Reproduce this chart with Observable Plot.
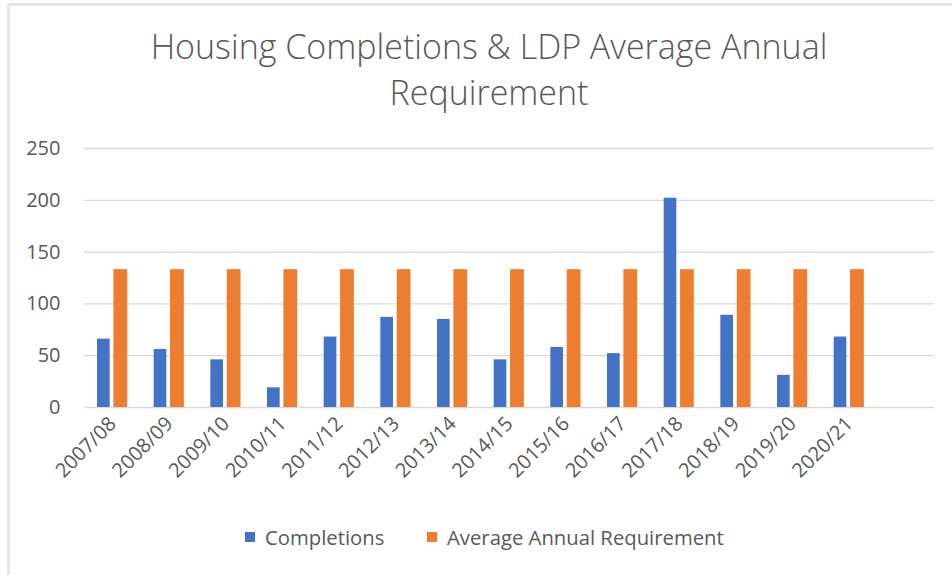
<!DOCTYPE html>
<html>
<head>
<meta charset="utf-8">
<script src="https://cdn.jsdelivr.net/npm/d3@7"></script>
<script src="https://cdn.jsdelivr.net/npm/@observablehq/plot@0.6"></script>
<style>
  html, body { margin: 0; padding: 0; background: #fff; }
  #wrap { position: relative; width: 952px; height: 575px; overflow: hidden; background: #fff; font-family: "Open Sans", sans-serif; color: #595959; }
  #bl { position: absolute; left: 7px; top: 3px; width: 3px; height: 580px; background: #e6e6e6; }
  #bt { position: absolute; left: 7px; top: 3px; width: 960px; height: 3px; background: #e6e6e6; }
  #title { position: absolute; left: 26px; top: 23px; width: 926px; text-align: center; font-size: 34px; font-weight: 300; line-height: 46px; color: #595959; }
  #chart { position: absolute; left: 0; top: 125px; }
  #legend { position: absolute; left: 0; top: 524px; width: 952px; height: 26px; }
  .item { position: absolute; top: 0; display: flex; align-items: center; height: 26px; font-size: 20.3px; line-height: 26px; color: #595959; white-space: nowrap; }
  .sw { display: inline-block; width: 10px; height: 10px; margin-right: 10px; }
</style>
</head>
<body>
<div id="wrap">
  <div id="bl"></div>
  <div id="bt"></div>
  <div id="title">Housing Completions &amp; LDP Average Annual<br>Requirement</div>
  <div id="chart"></div>
  <div id="legend"></div>
</div>
<script>
const years = ["2007/08","2008/09","2009/10","2010/11","2011/12","2012/13","2013/14","2014/15","2015/16","2016/17","2017/18","2018/19","2019/20","2020/21"];
const completions = [66, 56, 46, 19, 68, 87, 85, 46, 58, 52, 202, 89, 31, 68];
const requirement = [133, 133, 133, 133, 133, 133, 133, 133, 133, 133, 133, 133, 133, 133];
const seriesNames = ["Completions", "Average Annual Requirement"];
const seriesColors = ["#4472C4", "#ED7D31"];
const yTicks = [0, 50, 100, 150, 200, 250];

const rows = years.map((y, i) => ({year: y, completions: completions[i], requirement: requirement[i]}));

const chart = Plot.plot({
  width: 952,
  height: 372,
  marginTop: 23,
  marginLeft: 84,
  marginRight: 18,
  marginBottom: 90,
  style: {fontFamily: "Open Sans", fontSize: "20px", color: "#595959", background: "transparent"},
  x: {type: "band", domain: [...years, " "], padding: 0, round: false},
  y: {domain: [0, 250]},
  marks: [
    Plot.ruleY(yTicks, {stroke: "#d9d9d9", strokeWidth: 1.3}),
    Plot.barY(rows, {x: "year", y: "completions", fill: seriesColors[0], insetLeft: 13, insetRight: 31}),
    Plot.barY(rows, {x: "year", y: "requirement", fill: seriesColors[1], insetLeft: 29.4, insetRight: 13.5}),
    Plot.axisY({ticks: yTicks, tickSize: 0, tickPadding: 24, label: null, fill: "#595959"}),
    Plot.axisX({ticks: years, tickSize: 0, tickRotate: -45, tickPadding: 13, label: null, fill: "#595959"})
  ]
});
document.getElementById("chart").appendChild(chart);

const legend = document.getElementById("legend");
const lefts = [245, 427];
seriesNames.forEach((name, i) => {
  const d = document.createElement("div");
  d.className = "item";
  d.style.left = lefts[i] + "px";
  const sw = document.createElement("span");
  sw.className = "sw";
  sw.style.background = seriesColors[i];
  d.appendChild(sw);
  d.appendChild(document.createTextNode(name));
  legend.appendChild(d);
});
</script>
</body>
</html>
